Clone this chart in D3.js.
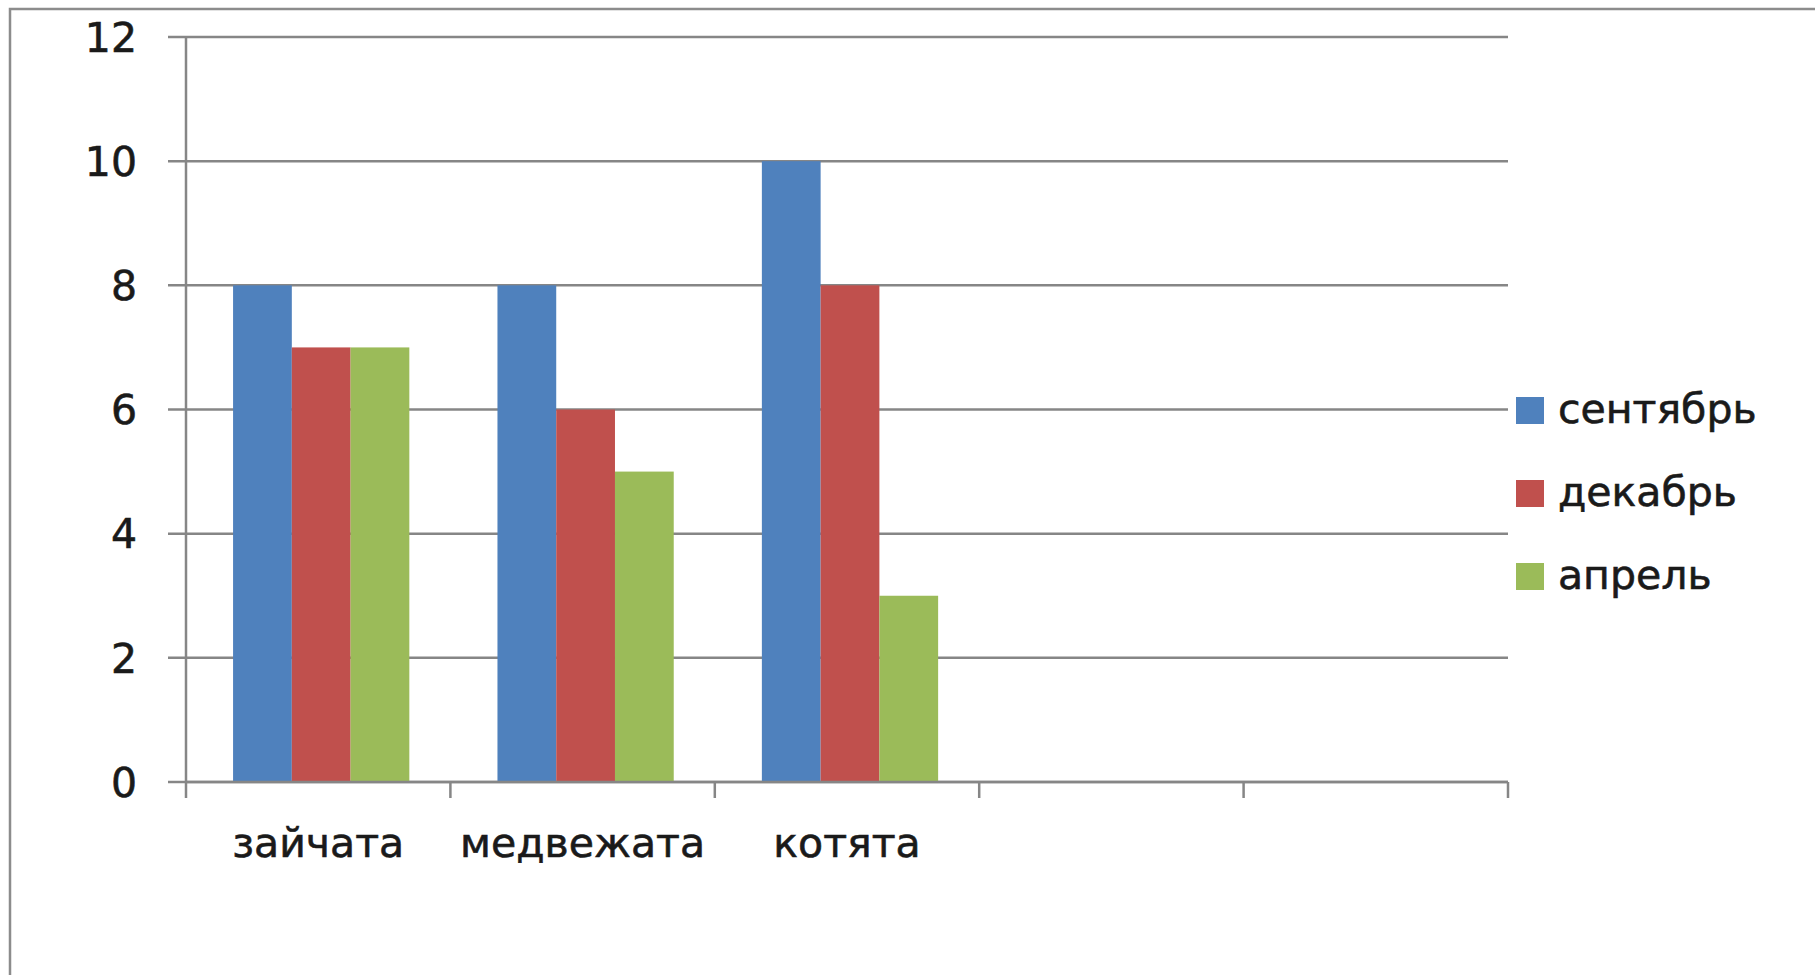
<!DOCTYPE html>
<html lang="ru">
<head>
  <meta charset="UTF-8">
  <title>Chart</title>
  <style>
    body { margin: 0; background: #fff; font-family: "DejaVu Sans", Verdana, sans-serif; }
    text { stroke: #1a1a1a; stroke-width: 0.6px; }
  </style>
  <script src="https://cdn.jsdelivr.net/npm/d3@7"></script>
</head>
<body>
<script>
  // categories (two empty slots on the axis, as in the original)
  var categories = ["зайчата", "медвежата", "котята", " ", "  "];
  var series = ["сентябрь", "декабрь", "апрель"];
  var colors = ["#4F81BD", "#C0504D", "#9BBB59"];
  var sentyabr = [8, 8, 10];
  var dekabr = [7, 6, 8];
  var aprel = [7, 5, 3];
  var yTicks = [0, 2, 4, 6, 8, 10, 12];

  var values = [sentyabr, dekabr, aprel];
  var data = [];
  series.forEach(function(s, i) {
    values[i].forEach(function(v, j) {
      data.push({ cat: categories[j], series: s, value: v, color: colors[i] });
    });
  });

  var W = 1815, H = 975;
  var plotLeft = 186, plotRight = 1508, plotTop = 37, plotBottom = 782;
  var fontSize = "41px";

  var svg = d3.select("body").append("svg").attr("width", W).attr("height", H);

  // outer frame
  svg.append("rect")
    .attr("x", 10).attr("y", 9)
    .attr("width", W + 20).attr("height", H + 20)
    .attr("fill", "none").attr("stroke", "#8c8c8c").attr("stroke-width", 2.5);

  var x0 = d3.scaleBand().domain(categories).range([plotLeft, plotRight]);
  var x1 = d3.scaleBand().domain(series).range([3, x0.bandwidth() + 3]).paddingOuter(0.75);
  var y = d3.scaleLinear().domain([0, 12]).range([plotBottom, plotTop]);

  // gridlines + y ticks
  svg.append("g").selectAll("line")
    .data(yTicks)
    .enter().append("line")
    .attr("x1", plotLeft - 18).attr("x2", plotRight)
    .attr("y1", function(d) { return y(d); })
    .attr("y2", function(d) { return y(d); })
    .attr("stroke", "#868686").attr("stroke-width", 2.5);

  svg.append("g").selectAll("text")
    .data(yTicks)
    .enter().append("text")
    .attr("x", 137)
    .attr("y", function(d) { return y(d); })
    .attr("dy", "0.36em")
    .attr("text-anchor", "end")
    .style("font-size", fontSize)
    .attr("fill", "#1a1a1a")
    .text(function(d) { return d; });

  // bars
  svg.append("g").selectAll("rect")
    .data(data)
    .enter().append("rect")
    .attr("x", function(d) { return x0(d.cat) + x1(d.series); })
    .attr("y", function(d) { return y(d.value); })
    .attr("width", x1.bandwidth())
    .attr("height", function(d) { return y(0) - y(d.value); })
    .attr("fill", function(d) { return d.color; });

  // axis lines
  svg.append("line")
    .attr("x1", plotLeft).attr("x2", plotLeft).attr("y1", plotTop).attr("y2", plotBottom)
    .attr("stroke", "#868686").attr("stroke-width", 2.5);
  svg.append("line")
    .attr("x1", plotLeft).attr("x2", plotRight).attr("y1", plotBottom).attr("y2", plotBottom)
    .attr("stroke", "#868686").attr("stroke-width", 2.5);

  // x ticks at band edges
  var edges = categories.map(function(c) { return x0(c); }).concat([plotRight]);
  svg.append("g").selectAll("line")
    .data(edges)
    .enter().append("line")
    .attr("x1", function(d) { return d; }).attr("x2", function(d) { return d; })
    .attr("y1", plotBottom).attr("y2", plotBottom + 16)
    .attr("stroke", "#868686").attr("stroke-width", 2.5);

  svg.append("g").selectAll("text")
    .data(categories)
    .enter().append("text")
    .attr("x", function(d) { return x0(d) + x0.bandwidth() / 2; })
    .attr("y", 857)
    .attr("text-anchor", "middle")
    .style("font-size", fontSize)
    .attr("fill", "#1a1a1a")
    .text(function(d) { return d.trim(); });

  // legend
  var legend = svg.append("g").selectAll("g")
    .data(series)
    .enter().append("g")
    .attr("transform", function(d, i) { return "translate(1516," + (397 + i * 83) + ")"; });
  legend.append("rect")
    .attr("width", 28).attr("height", 27)
    .attr("fill", function(d, i) { return colors[i]; });
  legend.append("text")
    .attr("x", 42).attr("y", 26)
    .style("font-size", fontSize)
    .attr("fill", "#1a1a1a")
    .text(function(d) { return d; });
</script>
</body>
</html>
